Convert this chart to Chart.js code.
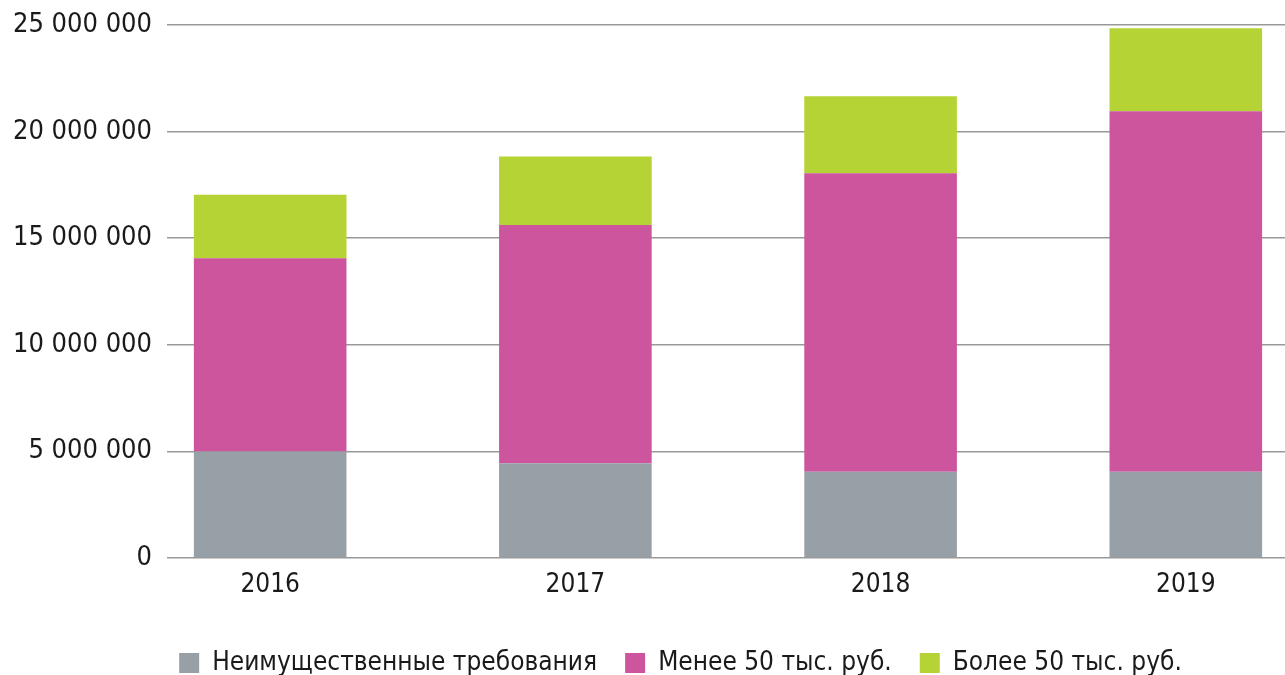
<!DOCTYPE html>
<html>
<head>
<meta charset="utf-8">
<script src="https://cdn.jsdelivr.net/npm/chart.js@4/dist/chart.umd.min.js"></script>
<style>
html, body { margin: 0; padding: 0; background: #fff; }
#wrap { width: 1285px; height: 675px; position: relative; }
</style>
</head>
<body>
<div id="wrap"><canvas id="c" width="1285" height="675"></canvas></div>
<script>
const categories = ['2016', '2017', '2018', '2019'];
const nonProperty = [5000000, 4440000, 4050000, 4050000];
const under50k = [9060000, 11180000, 14000000, 16900000];
const over50k = [2980000, 3210000, 3610000, 3900000];
const yTicks = [0, 5000000, 10000000, 15000000, 20000000, 25000000];
const seriesNames = ['Неимущественные требования', 'Менее 50 тыс. руб.', 'Более 50 тыс. руб.'];

const FONT = '"Liberation Sans Narrow", "DejaVu Sans Condensed", "Roboto", sans-serif';
const toPoints = arr => arr.map((v, i) => ({ x: i, y: v }));
const fmt = v => String(v).replace(/\B(?=(\d{3})+(?!\d))/g, ' ');

const legendShift = {
  id: 'legendShift',
  afterLayout(chart) {
    const lg = chart.legend;
    if (!lg) return;
    lg.left += 38; lg.right += 38;
    lg.top -= 2; lg.bottom -= 2;
  }
};

new Chart(document.getElementById('c'), {
  type: 'bar',
  data: {
    datasets: [
      { label: seriesNames[0], data: toPoints(nonProperty), backgroundColor: '#98a0a7' },
      { label: seriesNames[1], data: toPoints(under50k), backgroundColor: '#cc559e' },
      { label: seriesNames[2], data: toPoints(over50k), backgroundColor: '#b5d334' }
    ]
  },
  plugins: [legendShift],
  options: {
    responsive: false,
    animation: false,
    layout: { padding: { top: 25, right: 0, bottom: -13, left: 0 } },
    datasets: { bar: { barPercentage: 0.5, categoryPercentage: 1.0 } },
    plugins: {
      tooltip: { enabled: false },
      legend: {
        position: 'bottom',
        labels: {
          boxWidth: 20, boxHeight: 20, padding: 28,
          color: '#1a1a1a',
          font: { family: FONT, size: 26 }
        }
      }
    },
    scales: {
      x: {
        type: 'linear',
        stacked: true,
        offset: false,
        min: -0.338,
        max: 3.325,
        grid: { display: false, drawTicks: false },
        border: { display: false },
        afterBuildTicks: s => { s.ticks = categories.map((c, i) => ({ value: i })); },
        afterFit: s => { s.height = 66; s.paddingLeft = 0; s.paddingRight = 0; },
        ticks: {
          padding: 12,
          autoSkip: false,
          maxRotation: 0,
          color: '#1a1a1a',
          font: { family: FONT, size: 26 },
          callback: v => categories[v]
        }
      },
      y: {
        stacked: true,
        min: 0,
        max: 25000000,
        afterBuildTicks: s => { s.ticks = yTicks.map(v => ({ value: v })); },
        afterFit: s => { s.width = 167; s.paddingTop = 0; s.paddingBottom = 0; },
        grid: { color: '#999999', lineWidth: 1.5, drawTicks: false },
        border: { display: false },
        ticks: {
          padding: 15,
          color: '#1a1a1a',
          font: { family: FONT, size: 27 },
          callback: v => fmt(v)
        }
      }
    }
  }
});
</script>
</body>
</html>
